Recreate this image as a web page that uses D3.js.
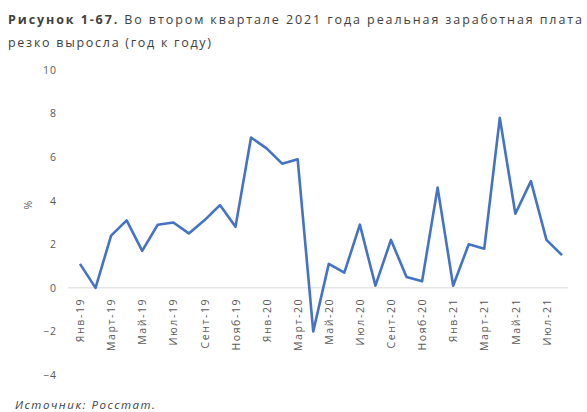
<!DOCTYPE html>
<html>
<head>
<meta charset="utf-8">
<script src="https://cdn.jsdelivr.net/npm/d3@7"></script>
<style>
  html, body { margin: 0; padding: 0; background: #fff; }
  svg { display: block; font-family: "Open Sans", "Liberation Sans", sans-serif; }
</style>
</head>
<body>
<svg id="chart" width="587" height="412"></svg>
<script>
// Monthly real wage growth, % year over year, Jan 2019 – Aug 2021
const months = [
  "Янв-19","Фев-19","Март-19","Апр-19","Май-19","Июн-19","Июл-19","Авг-19",
  "Сент-19","Окт-19","Нояб-19","Дек-19","Янв-20","Фев-20","Март-20","Апр-20",
  "Май-20","Июн-20","Июл-20","Авг-20","Сент-20","Окт-20","Нояб-20","Дек-20",
  "Янв-21","Фев-21","Март-21","Апр-21","Май-21","Июн-21","Июл-21","Авг-21"
];
const wageGrowth = [
  1.1, 0.0, 2.4, 3.1, 1.7, 2.9, 3.0, 2.5,
  3.1, 3.8, 2.8, 6.9, 6.4, 5.7, 5.9, -2.0,
  1.1, 0.7, 2.9, 0.1, 2.2, 0.5, 0.3, 4.6,
  0.1, 2.0, 1.8, 7.8, 3.4, 4.9, 2.2, 1.5
];
const tickLabels = [
  "Янв-19","Март-19","Май-19","Июл-19","Сент-19","Нояб-19","Янв-20","Март-20",
  "Май-20","Июл-20","Сент-20","Нояб-20","Янв-21","Март-21","Май-21","Июл-21"
];
const yTicks = [-4, -2, 0, 2, 4, 6, 8, 10];

const svg = d3.select("#chart");
const textColor = "#595959";
const font = "'Open Sans', 'Liberation Sans', sans-serif";

// Title, two lines
const title = svg.append("text")
  .attr("x", 8).attr("y", 24)
  .attr("font-size", 12.5).attr("fill", "#404040")
  .attr("textLength", 574).attr("lengthAdjust", "spacing");
title.append("tspan").attr("font-weight", "bold").text("Рисунок 1-67.");
title.append("tspan").text(" Во втором квартале 2021 года реальная заработная плата");
svg.append("text")
  .attr("x", 8).attr("y", 47)
  .attr("font-size", 12.5).attr("fill", "#404040")
  .attr("textLength", 203).attr("lengthAdjust", "spacing")
  .text("резко выросла (год к году)");

// Scales
const x = d3.scalePoint().domain(months).range([80, 562]);
const y = d3.scaleLinear().domain([-4, 10]).range([375, 70]);

// Y axis labels (no axis line)
const yAxis = d3.axisLeft(y).tickValues(yTicks).tickSize(0).tickPadding(0);
svg.append("g")
  .attr("transform", "translate(57,0)")
  .call(yAxis)
  .call(g => g.select(".domain").remove())
  .call(g => g.selectAll("text")
    .attr("font-size", 10.5).attr("fill", textColor)
    .attr("font-family", font).attr("letter-spacing", 1));

// Y axis title
svg.append("text")
  .attr("transform", `translate(28,${y(3.8)}) rotate(-90)`)
  .attr("text-anchor", "middle").attr("dy", "0.35em")
  .attr("font-size", 10.5).attr("fill", textColor)
  .text("%");

// Category axis along the zero line
const xAxis = d3.axisBottom(x)
  .tickValues(tickLabels).tickSize(0).tickPadding(6);
svg.append("g")
  .attr("transform", `translate(0,${y(0)})`)
  .call(xAxis)
  .call(g => g.select(".domain")
    .attr("d", `M68,0H568`)
    .attr("stroke", "#d9d9d9").attr("stroke-width", 1))
  .call(g => g.selectAll("text")
    .attr("font-size", 10.5).attr("fill", textColor)
    .attr("font-family", font).attr("letter-spacing", 1.6)
    .attr("transform", "rotate(-90)")
    .attr("text-anchor", "end")
    .attr("x", -10).attr("y", 0).attr("dy", "0.35em"));

// Series line
const line = d3.line()
  .x((d, i) => x(months[i]))
  .y(d => y(d));
svg.append("path")
  .datum(wageGrowth)
  .attr("fill", "none")
  .attr("stroke", "#4472c4")
  .attr("stroke-width", 2.6)
  .attr("stroke-linejoin", "round")
  .attr("d", line);

// Source note
svg.append("text")
  .attr("x", 15).attr("y", 409)
  .attr("font-size", 11.5).attr("font-style", "italic").attr("fill", "#404040")
  .attr("textLength", 140).attr("lengthAdjust", "spacing")
  .text("Источник: Росстат.");
</script>
</body>
</html>
